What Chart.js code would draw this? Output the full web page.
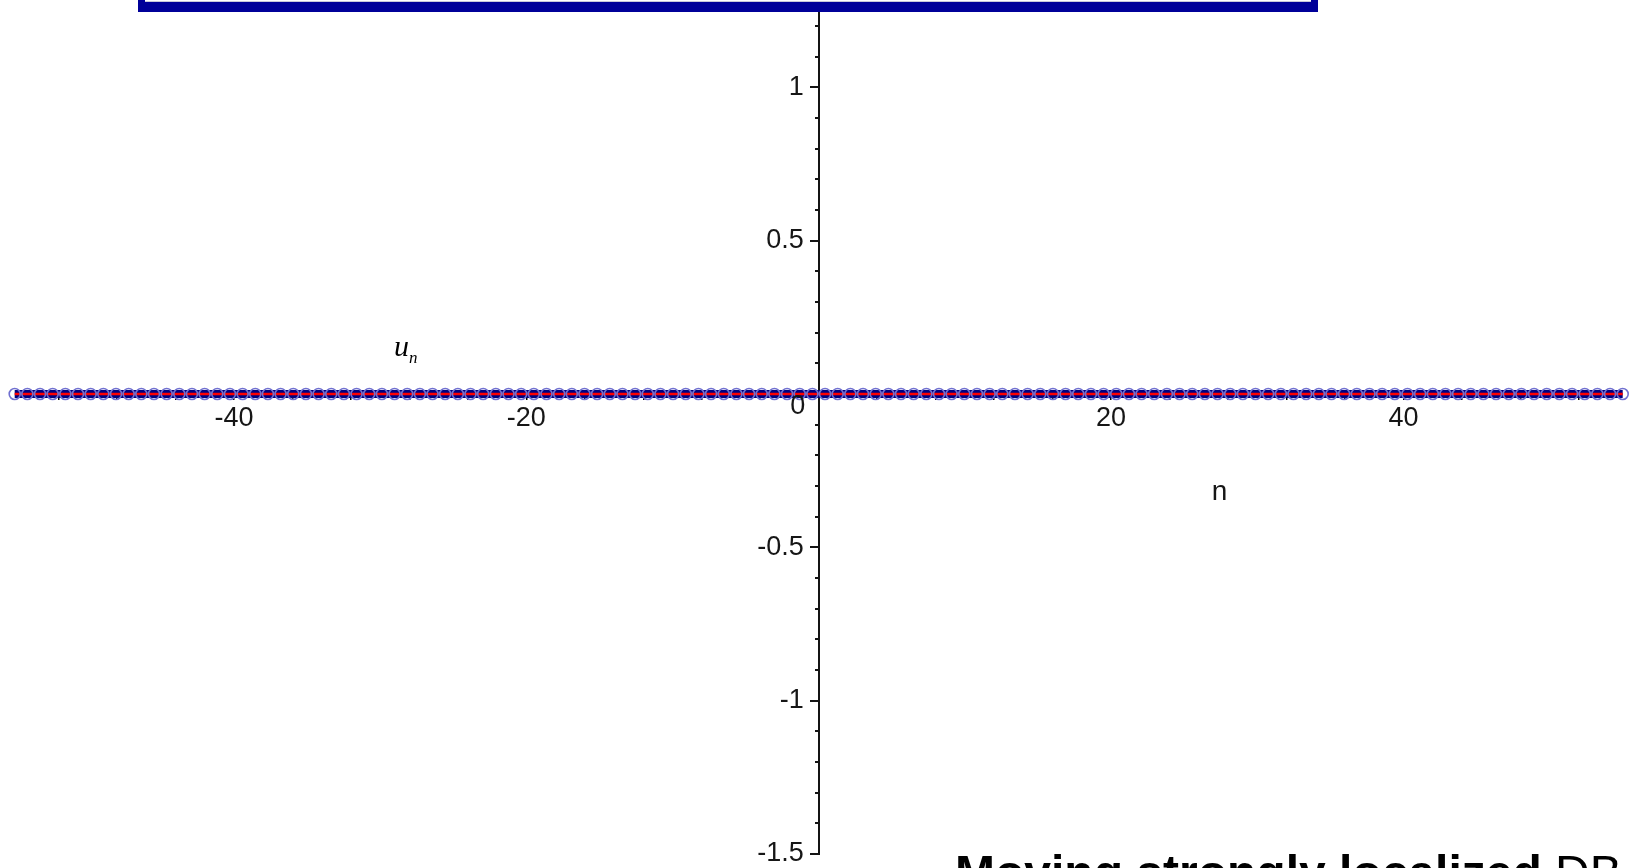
<!DOCTYPE html>
<html>
<head>
<meta charset="utf-8">
<title>u_n vs n</title>
<script src="https://cdn.jsdelivr.net/npm/chart.js@4.4.1/dist/chart.umd.min.js"></script>
<style>
  html, body { margin: 0; padding: 0; background: #ffffff; overflow: hidden; }
  canvas { display: block; }
</style>
</head>
<body>
<canvas id="chart" width="1632" height="868"></canvas>
<script>
// Lattice site positions n (x) of the plotted snapshot
const sites = [
  -55.000, -54.134, -53.268, -52.402, -51.535, -50.669, -49.803, -48.937,
  -48.071, -47.205, -46.339, -45.472, -44.606, -43.740, -42.874, -42.008,
  -41.142, -40.276, -39.409, -38.543, -37.677, -36.811, -35.945, -35.079,
  -34.213, -33.346, -32.480, -31.614, -30.748, -29.882, -29.016, -28.150,
  -27.283, -26.417, -25.551, -24.685, -23.819, -22.953, -22.087, -21.220,
  -20.354, -19.488, -18.622, -17.756, -16.890, -16.024, -15.157, -14.291,
  -13.425, -12.559, -11.693, -10.827, -9.961, -9.094, -8.228, -7.362,
  -6.496, -5.630, -4.764, -3.898, -3.031, -2.165, -1.299, -0.433,
  0.433, 1.299, 2.165, 3.031, 3.898, 4.764, 5.630, 6.496,
  7.362, 8.228, 9.094, 9.961, 10.827, 11.693, 12.559, 13.425,
  14.291, 15.157, 16.024, 16.890, 17.756, 18.622, 19.488, 20.354,
  21.220, 22.087, 22.953, 23.819, 24.685, 25.551, 26.417, 27.283,
  28.150, 29.016, 29.882, 30.748, 31.614, 32.480, 33.346, 34.213,
  35.079, 35.945, 36.811, 37.677, 38.543, 39.409, 40.276, 41.142,
  42.008, 42.874, 43.740, 44.606, 45.472, 46.339, 47.205, 48.071,
  48.937, 49.803, 50.669, 51.535, 52.402, 53.268, 54.134, 55.000
];

// Displacements u_n at each site
const uValues = [
  0, 0, 0, 0, 0, 0, 0, 0, 0, 0, 0, 0, 0, 0, 0, 0,
  0, 0, 0, 0, 0, 0, 0, 0, 0, 0, 0, 0, 0, 0, 0, 0,
  0, 0, 0, 0, 0, 0, 0, 0, 0, 0, 0, 0, 0, 0, 0, 0,
  0, 0, 0, 0, 0, 0, 0, 0, 0, 0, 0, 0, 0, 0, 0, 0,
  0, 0, 0, 0, 0, 0, 0, 0, 0, 0, 0, 0, 0, 0, 0, 0,
  0, 0, 0, 0, 0, 0, 0, 0, 0, 0, 0, 0, 0, 0, 0, 0,
  0, 0, 0, 0, 0, 0, 0, 0, 0, 0, 0, 0, 0, 0, 0, 0,
  0, 0, 0, 0, 0, 0, 0, 0, 0, 0, 0, 0, 0, 0, 0, 0
];

// Axis ticks
const xTickMarks = [-52, -48, -44, -40, -36, -32, -28, -24, -20, -16, -12, -8, -4,
                    4, 8, 12, 16, 20, 24, 28, 32, 36, 40, 44, 48, 52];
const xTickLabels = [-40, -20, 20, 40];
const yMajorTicks = [1, 0.5, -0.5, -1, -1.5];
const yMinorTicks = [1.2, 1.1, 0.9, 0.8, 0.7, 0.6, 0.4, 0.3, 0.2, 0.1,
                     -0.1, -0.2, -0.3, -0.4, -0.6, -0.7, -0.8, -0.9,
                     -1.1, -1.2, -1.3, -1.4];

// Visible window
const X_MIN = -56.006, X_MAX = 55.636;
const Y_MIN = -1.5, Y_MAX = 1.285;

const points = sites.map((n, i) => ({ x: n, y: uValues[i] }));

const tickFont = { family: "'Liberation Sans', Arial, sans-serif", size: 27 };
const tickColor = '#161616';
const CANVAS_W = 1632;
// y tick labels sit 15px left of the vertical axis
const labelShiftN = -15 * (X_MAX - X_MIN) / CANVAS_W;

const setTicks = (values) => (scale) => { scale.ticks = values.map(v => ({ value: v })); };
// axes cross inside the plot, so they reserve no outer margin
const noMargins = (scale) => {
  scale.paddingTop = 0; scale.paddingBottom = 0;
  scale.paddingLeft = 0; scale.paddingRight = 0;
};

const decorations = {
  id: 'decorations',
  afterDraw(chart) {
    const ctx = chart.ctx;
    const xs = chart.scales.x, ys = chart.scales.y;
    const ox = xs.getPixelForValue(0), oy = ys.getPixelForValue(0);
    ctx.save();

    // origin label
    ctx.fillStyle = tickColor;
    ctx.font = "27px 'Liberation Sans', Arial, sans-serif";
    ctx.textAlign = 'center';
    ctx.textBaseline = 'middle';
    ctx.fillText('0', ox - 21, oy + 13);

    // axis names
    ctx.fillStyle = '#000';
    ctx.textAlign = 'left';
    ctx.textBaseline = 'alphabetic';
    ctx.font = "italic 30px 'Liberation Serif', 'Times New Roman', serif";
    ctx.fillText('u', 394, 356);
    ctx.font = "italic 17px 'Liberation Serif', 'Times New Roman', serif";
    ctx.fillText('n', 409, 363);
    ctx.fillStyle = tickColor;
    ctx.font = "28px 'Liberation Sans', Arial, sans-serif";
    ctx.textAlign = 'center';
    ctx.fillText('n', 1219.5, 500);

    // framed heading panel along the top edge
    ctx.fillStyle = '#000099';
    ctx.fillRect(138, -20, 1180, 32);
    ctx.fillStyle = '#ffffff';
    ctx.fillRect(145, -20, 1166, 22);
    ctx.fillStyle = '#c8c8d8';
    ctx.fillRect(145, 1, 1166, 1);

    // caption
    ctx.fillStyle = '#000';
    ctx.textAlign = 'left';
    ctx.textBaseline = 'alphabetic';
    ctx.font = "bold 48px 'Liberation Sans', Arial, sans-serif";
    const boldPart = 'Moving strongly localized ';
    ctx.fillText(boldPart, 955, 889);
    const w = ctx.measureText(boldPart).width;
    ctx.font = "48px 'Liberation Sans', Arial, sans-serif";
    ctx.fillText('DB', 955 + w, 889);

    ctx.restore();
  }
};

new Chart(document.getElementById('chart'), {
  type: 'line',
  data: {
    datasets: [
      {
        label: 'band',
        data: points,
        borderColor: '#000080',
        borderWidth: 8,
        pointRadius: 0,
        fill: false,
        tension: 0,
        clip: false,
        order: 2
      },
      {
        label: 'u_n',
        data: points,
        borderColor: '#ff0000',
        borderWidth: 2.5,
        pointRadius: 5.5,
        pointBorderWidth: 1.6,
        pointBorderColor: '#7070d0',
        pointBackgroundColor: 'rgba(255,255,255,0)',
        fill: false,
        tension: 0,
        clip: false,
        order: 1
      }
    ]
  },
  options: {
    responsive: false,
    animation: false,
    events: [],
    layout: { autoPadding: false, padding: { left: 0, right: 0, top: 0, bottom: 14 } },
    plugins: { legend: { display: false }, tooltip: { enabled: false }, title: { display: false } },
    scales: {
      x: {
        type: 'linear',
        min: X_MIN, max: X_MAX,
        position: { y: 0 },
        z: 1,
        afterBuildTicks: setTicks(xTickMarks),
        afterFit: noMargins,
        border: { display: false },
        grid: { drawOnChartArea: false, drawTicks: true, tickLength: 6, color: '#000', lineWidth: 1.5 },
        ticks: {
          font: tickFont, color: tickColor, padding: 2, maxRotation: 0, autoSkip: false,
          callback: (v) => xTickLabels.includes(v) ? String(v) : ''
        }
      },
      y: {
        type: 'linear',
        min: Y_MIN, max: Y_MAX,
        position: { x: 0 },
        z: 1,
        afterBuildTicks: setTicks(yMajorTicks),
        afterFit: noMargins,
        border: { display: true, color: '#141414', width: 2 },
        grid: { drawOnChartArea: false, drawTicks: true, tickLength: 8, color: '#141414', lineWidth: 2 },
        ticks: { display: false }
      },
      yMinor: {
        type: 'linear',
        min: Y_MIN, max: Y_MAX,
        position: { x: 0 },
        z: 1,
        afterBuildTicks: setTicks(yMinorTicks),
        afterFit: noMargins,
        border: { display: false },
        grid: { drawOnChartArea: false, drawTicks: true, tickLength: 4, color: '#141414', lineWidth: 2 },
        ticks: { display: false }
      },
      yLabels: {
        type: 'linear',
        min: Y_MIN, max: Y_MAX,
        position: { x: labelShiftN },
        afterBuildTicks: setTicks(yMajorTicks),
        afterFit: noMargins,
        border: { display: false },
        grid: { display: false },
        ticks: { font: tickFont, color: tickColor, autoSkip: false }
      }
    }
  },
  plugins: [decorations]
});
</script>
</body>
</html>
